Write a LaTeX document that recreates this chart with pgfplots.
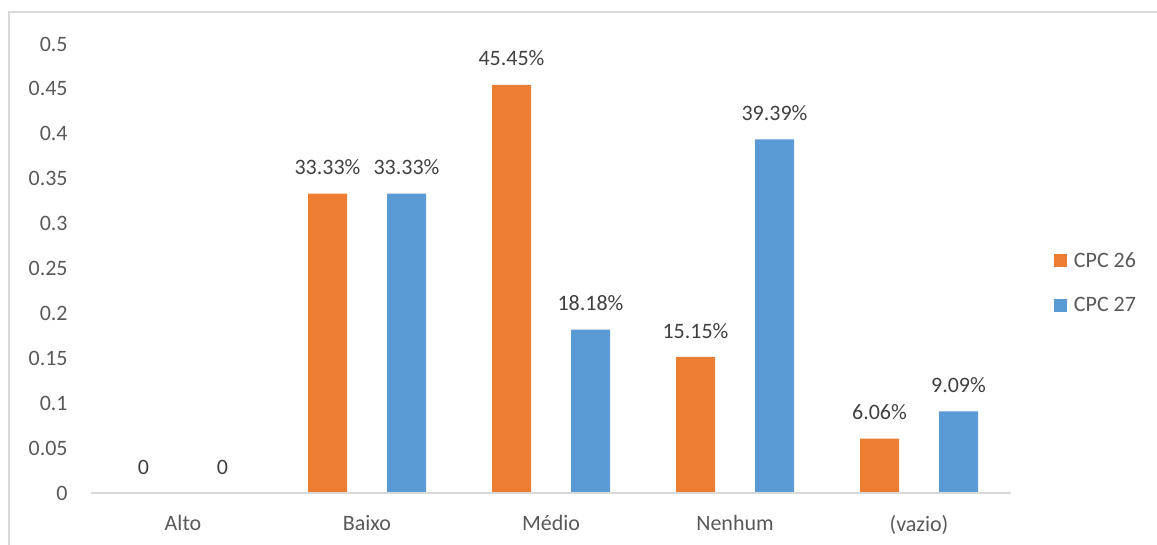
\documentclass[border=0pt]{standalone}
\usepackage{pgfplots}
\pgfplotsset{compat=1.18}
\usepackage{fontspec}
\setmainfont{Carlito}
\definecolor{cOrange}{HTML}{ED7D31}
\definecolor{cBlue}{HTML}{5B9BD5}
\definecolor{tickc}{HTML}{595959}
\definecolor{labc}{HTML}{404040}
\definecolor{framec}{HTML}{D9D9D9}
\newcommand{\cf}{\fontsize{16.5}{19}\selectfont}
\begin{document}
\begin{tikzpicture}
\useasboundingbox (0,0) rectangle (867.75pt,408.75pt);
\draw[framec, line width=1pt] (6.75pt,0) -- (6.75pt,399.75pt) -- (867.75pt,399.75pt);
\begin{axis}[
  at={(68.25pt,39pt)}, anchor=south west,
  scale only axis, width=690pt, height=336.75pt,
  ymin=0, ymax=0.5, xmin=-0.5, xmax=4.5,
  ybar=30pt, bar width=29.25pt,
  axis on top,
  xtick={0,1,2,3,4},
  xticklabels={Alto,Baixo,Médio,Nenhum,(vazio)},
  ytick={0,0.05,0.1,0.15,0.2,0.25,0.3,0.35,0.4,0.45,0.5},
  yticklabels={0,0.05,0.1,0.15,0.2,0.25,0.3,0.35,0.4,0.45,0.5},
  axis x line*=bottom, axis y line*=left,
  y axis line style={draw=none},
  x axis line style={draw=framec, line width=1.3pt},
  major tick length=0pt,
  tick label style={font=\cf, text=tickc},
  yticklabel style={xshift=-14pt},
  xticklabel style={yshift=-13pt},
  clip=false,
  nodes near coords,
  point meta=explicit symbolic,
  nodes near coords style={font=\cf, text=labc, yshift=10.5pt},
  legend style={at={(1.042,0.468)}, anchor=west, draw=none, fill=none,
    font=\cf, text=tickc, row sep=17pt,
    nodes={inner xsep=5pt}},
  legend cell align=left,
  legend image code/.code={\fill[#1] (0pt,-5pt) rectangle (10pt,5pt);},
]
\addplot[fill=cOrange, draw=none] coordinates {(0,0) [0] (1,0.3333) [33.33\%] (2,0.4545) [45.45\%] (3,0.1515) [15.15\%] (4,0.0606) [6.06\%]};
\addplot[fill=cBlue, draw=none] coordinates {(0,0) [0] (1,0.3333) [33.33\%] (2,0.1818) [18.18\%] (3,0.3939) [39.39\%] (4,0.0909) [9.09\%]};
\legend{CPC 26, CPC 27}
\end{axis}
\end{tikzpicture}
\end{document}
